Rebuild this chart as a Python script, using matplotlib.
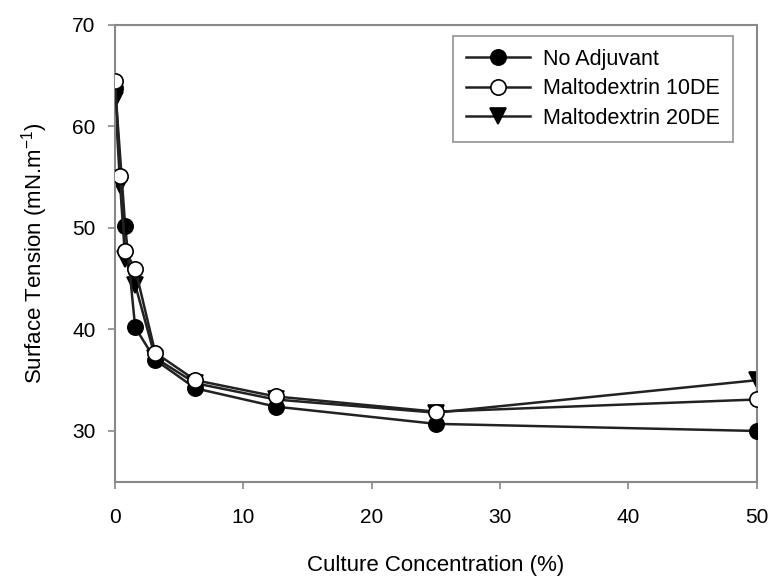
import matplotlib
matplotlib.use("Agg")
import matplotlib.pyplot as plt
from matplotlib.ticker import MultipleLocator

# --- Data ---
conc = [0, 0.39, 0.78, 1.56, 3.125, 6.25, 12.5, 25, 50]
conc_no_adj = [0, 0.78, 1.56, 3.125, 6.25, 12.5, 25, 50]

no_adjuvant = [63.8, 50.2, 40.2, 37.0, 34.2, 32.4, 30.7, 30.0]
malto_10de = [64.5, 55.1, 47.7, 46.0, 37.7, 35.0, 33.4, 31.9, 33.1]
malto_20de = [62.6, 54.2, 46.9, 44.4, 37.2, 34.7, 33.1, 31.8, 35.0]

labels = ["No Adjuvant", "Maltodextrin 10DE", "Maltodextrin 20DE"]

plt.rcParams["font.family"] = ["Liberation Sans", "DejaVu Sans"]
plt.rcParams["mathtext.fontset"] = "custom"
plt.rcParams["mathtext.rm"] = "Liberation Sans"

fig = plt.figure(figsize=(7.73, 5.79), dpi=100)
ax = fig.add_axes([0.149, 0.168, 0.830, 0.789])

line_kw = dict(color="#222222", lw=1.8, markersize=11, markeredgewidth=1.2,
               markeredgecolor="black")

ax.plot(conc_no_adj, no_adjuvant, marker="o", markerfacecolor="black",
        label=labels[0], zorder=3, **line_kw)
ax.plot(conc, malto_10de, marker="o", markerfacecolor="white",
        label=labels[1], zorder=4, **line_kw)
ax.plot(conc, malto_20de, marker="v", markerfacecolor="black",
        label=labels[2], zorder=2, **line_kw)

ax.set_xlim(0, 50)
ax.set_ylim(25, 70)
ax.xaxis.set_major_locator(MultipleLocator(10))
ax.yaxis.set_major_locator(MultipleLocator(10))

for side in ax.spines.values():
    side.set_color("#888888")
    side.set_linewidth(1.5)

ax.tick_params(axis="both", which="major", direction="out", length=5,
               width=1.2, color="#888888", labelsize=15, pad=9)
ax.tick_params(axis="x", pad=14)

ax.set_xlabel("Culture Concentration (%)", fontsize=16, labelpad=20)
ax.set_ylabel(r"Surface Tension (mN.m$^{\mathregular{-1}}$)", fontsize=16,
              labelpad=16)

leg = ax.legend(loc="upper right", bbox_to_anchor=(0.963, 0.976),
                borderaxespad=0, fontsize=15.5, frameon=True, fancybox=False,
                edgecolor="#777777", handlelength=3.0, borderpad=0.6,
                labelspacing=0.4, handletextpad=0.6)
leg.get_frame().set_linewidth(1.2)

fig.savefig("out.png", dpi=100)
